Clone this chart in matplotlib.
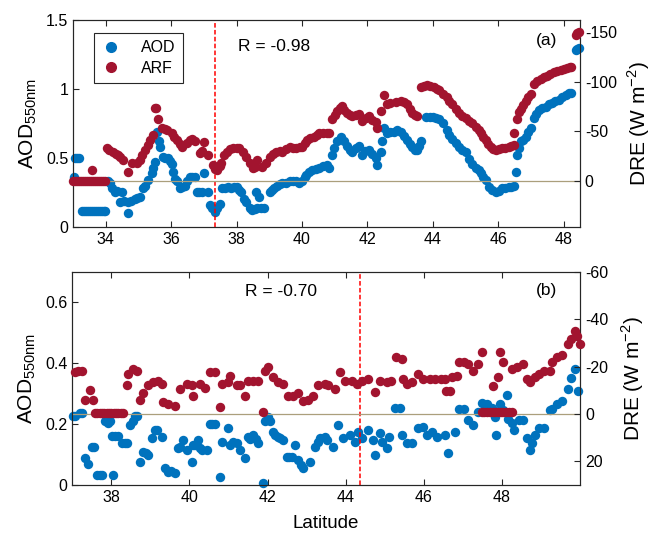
import matplotlib
matplotlib.use("Agg")
import matplotlib.pyplot as plt
from matplotlib.lines import Line2D

plt.rcParams['font.family'] = ['Liberation Sans', 'DejaVu Sans']
plt.rcParams['mathtext.fontset'] = 'custom'
plt.rcParams['mathtext.rm'] = 'Liberation Sans'
plt.rcParams['axes.unicode_minus'] = False

BLUE = '#0072BD'
RED = '#A2142F'

# ---------------- Panel (a) data ----------------
lat_a_aod = [33.03, 33.06, 33.12, 33.18,
             33.27, 33.33, 33.40, 33.46, 33.52, 33.58, 33.64, 33.70, 33.76, 33.82, 33.88, 33.94, 33.98,
             34.08, 34.13, 34.20, 34.28, 34.35, 34.43, 34.49, 34.55, 34.68, 34.68, 34.78, 34.89, 34.97, 35.04,
             35.15, 35.20, 35.30, 35.41, 35.44, 35.50, 35.56, 35.62, 35.65, 35.74, 35.82, 35.90, 35.96, 36.02, 36.05,
             36.12, 36.17, 36.26, 36.33, 36.41, 36.50, 36.57, 36.65, 36.72, 36.78, 36.86, 36.93, 37.02, 37.12,
             37.18, 37.24, 37.33, 37.40, 37.48, 37.57, 37.66, 37.75, 37.84, 37.92, 38.00, 38.08, 38.15, 38.22, 38.30,
             38.40, 38.46, 38.55, 38.64, 38.75, 38.85, 38.61, 38.70, 39.01, 39.08, 39.16, 39.25, 39.32, 39.40,
             39.50, 39.62, 39.72, 39.83, 39.92, 40.01, 40.08, 40.13, 40.22, 40.32, 40.42, 40.53, 40.65, 40.77, 40.84,
             40.93, 40.99, 41.08, 41.20, 41.28, 41.38, 41.46, 41.54, 41.65, 41.75, 41.84, 41.92, 42.05, 42.15, 42.27, 42.30, 42.42,
             42.45, 42.51, 42.60, 42.70, 42.82, 42.92, 43.03, 43.12, 43.21, 43.30, 43.37, 43.45, 43.52, 43.58, 43.64,
             43.79, 43.90, 44.00, 44.10, 44.19, 44.30, 44.43, 44.50, 44.59, 44.70, 44.80, 44.90, 45.01, 45.10, 45.20,
             45.32, 45.40, 45.47, 45.55, 45.62, 45.71, 45.80, 45.93, 46.02, 46.11, 46.20, 46.32, 46.40, 46.48,
             46.54, 46.57, 46.63, 46.69, 46.76, 46.84, 46.92, 46.99, 47.09, 47.16, 47.24, 47.35, 47.45, 47.55, 47.63,
             47.75, 47.85, 47.95, 48.06, 48.15, 48.24, 48.37, 48.42, 48.46]
aod_a = [0.36, 0.50, 0.50, 0.50,
         0.115, 0.115, 0.115, 0.115, 0.115, 0.115, 0.115, 0.115, 0.115, 0.115, 0.115, 0.115, 0.115,
         0.33, 0.32, 0.28, 0.25, 0.26, 0.18, 0.25, 0.19, 0.10, 0.18, 0.19, 0.20, 0.21, 0.22,
         0.28, 0.30, 0.34, 0.39, 0.43, 0.47, 0.69, 0.62, 0.58, 0.51, 0.50, 0.50, 0.48, 0.46, 0.40,
         0.35, 0.33, 0.28, 0.29, 0.30, 0.33, 0.36, 0.36, 0.36, 0.25, 0.25, 0.25, 0.39, 0.25,
         0.16, 0.14, 0.11, 0.14, 0.17, 0.28, 0.28, 0.29, 0.28, 0.29, 0.29, 0.27, 0.25, 0.20, 0.18,
         0.14, 0.12, 0.13, 0.14, 0.14, 0.14, 0.25, 0.22, 0.25, 0.27, 0.28, 0.30, 0.31, 0.32,
         0.32, 0.33, 0.33, 0.33, 0.32, 0.33, 0.36, 0.38, 0.40, 0.41, 0.42, 0.43, 0.44, 0.45, 0.43,
         0.52, 0.57, 0.62, 0.65, 0.62, 0.59, 0.56, 0.54, 0.57, 0.59, 0.52, 0.55, 0.56, 0.53, 0.50, 0.45, 0.54,
         0.62, 0.72, 0.68, 0.69, 0.69, 0.70, 0.69, 0.66, 0.63, 0.60, 0.58, 0.56, 0.56, 0.59, 0.62,
         0.80, 0.80, 0.80, 0.79, 0.78, 0.75, 0.70, 0.67, 0.64, 0.61, 0.58, 0.56, 0.54, 0.49, 0.46,
         0.43, 0.41, 0.39, 0.36, 0.34, 0.29, 0.27, 0.25, 0.26, 0.28, 0.28, 0.29, 0.29, 0.30,
         0.40, 0.52, 0.57, 0.62, 0.63, 0.65, 0.69, 0.72, 0.79, 0.82, 0.85, 0.86, 0.87, 0.89, 0.90,
         0.91, 0.92, 0.94, 0.96, 0.97, 0.97, 1.28, 1.29, 1.30]

lat_a_arf = [33.00, 33.06, 33.12, 33.18, 33.24, 33.30, 33.37, 33.43, 33.49, 33.55, 33.61, 33.67, 33.73,
             33.79, 33.85, 33.91, 33.98, 33.58,
             34.04, 34.10, 34.22, 34.30, 34.37, 34.45, 34.52, 34.68, 34.80, 34.95, 35.04, 35.12, 35.20, 35.28,
             35.35, 35.44, 35.50, 35.55, 35.59, 35.71, 35.80, 35.87, 36.02, 36.10, 36.17, 36.26, 36.32, 36.48,
             36.57, 36.65, 36.72, 36.87, 36.95, 37.02, 37.12, 37.27, 37.33, 37.39, 37.48, 37.54, 37.62, 37.70,
             37.79, 37.88, 38.00, 38.09, 38.20, 38.30, 38.40, 38.49, 38.57, 38.64, 38.79, 38.90, 39.01, 39.10,
             39.22, 39.32, 39.40, 39.52, 39.62, 39.72, 39.83, 39.93, 40.01, 40.10, 40.16, 40.25, 40.38, 40.45,
             40.53, 40.65, 40.77, 40.84, 40.93, 41.00, 41.08, 41.15, 41.23, 41.30, 41.38, 41.46, 41.54, 41.65,
             41.75, 41.84, 41.95, 42.05, 42.15, 42.27, 42.30, 42.42, 42.51, 42.60, 42.70, 42.88, 43.03, 43.12,
             43.21, 43.30, 43.37, 43.45, 43.52, 43.64, 43.73, 43.82, 43.93, 44.04, 44.12, 44.19, 44.30, 44.43,
             44.50, 44.59, 44.70, 44.80, 44.90, 45.01, 45.10, 45.20, 45.32, 45.40, 45.47, 45.55, 45.62, 45.70,
             45.77, 45.85, 45.93, 46.02, 46.11, 46.20, 46.32, 46.40, 46.48, 46.48, 46.57, 46.63, 46.69, 46.76,
             46.84, 46.92, 46.99, 47.09, 47.18, 47.30, 47.40, 47.48, 47.58, 47.70, 47.80, 47.91, 48.00, 48.09,
             48.18, 48.24, 48.37, 48.42, 48.46]
arf_a = [0, 0, 0, 0, 0, 0, 0, 0, 0, 0, 0, 0, 0,
         0, 0, 0, 0, -11,
         -33, -31, -29, -27, -26, -24, -21, -9, -18, -18, -21, -26, -31, -36,
         -41, -46, -74, -74, -63, -53, -52, -51, -48, -44, -41, -37, -34, -38,
         -41, -42, -40, -28, -30, -39, -26, -16, -12, -11, -15, -18, -26, -29,
         -32, -33, -33, -33, -29, -24, -18, -13, -14, -21, -14, -18, -24, -27,
         -29, -30, -29, -32, -34, -33, -33, -34, -34, -38, -41, -43, -44, -46,
         -48, -48, -48, -48, -63, -67, -71, -74, -76, -72, -69, -67, -66, -67,
         -68, -61, -64, -66, -62, -59, -53, -71, -87, -78, -79, -80, -81, -80,
         -78, -73, -69, -67, -66, -95, -96, -97, -96, -95, -93, -92, -88, -85,
         -81, -78, -73, -69, -66, -64, -61, -58, -54, -51, -48, -44, -41, -37,
         -34, -32, -31, -32, -33, -33, -34, -35, -36, -48, -63, -70, -73, -77,
         -81, -85, -88, -98, -101, -103, -105, -106, -108, -110, -111, -112, -113, -114,
         -115, -115, -147, -149, -150]

# ---------------- Panel (b) data ----------------
lat_b_aod = [37.02, 37.07, 37.20, 37.25, 37.32, 37.40, 37.50, 37.55, 37.63, 37.70, 37.76, 37.84, 37.91,
             37.97, 38.04, 38.02, 38.10, 38.17, 38.27, 38.35, 38.40, 38.48, 38.55, 38.60, 38.66, 38.73,
             38.81, 38.88, 38.94, 39.04, 39.12, 39.18, 39.29, 39.37, 39.45, 39.52, 39.62, 39.70, 39.76,
             39.83, 39.93, 40.06, 40.09, 40.15, 40.21, 40.27, 40.32, 40.45, 40.52, 40.58, 40.65, 40.78,
             40.83, 40.98, 41.03, 41.12, 41.21, 41.29, 41.41, 41.49, 41.55, 41.62, 41.70, 41.75, 41.88,
             41.93, 42.01, 42.07, 42.13, 42.20, 42.26, 42.32, 42.39, 42.49, 42.55, 42.62, 42.70, 42.77,
             42.85, 42.90, 43.08, 43.21, 43.28, 43.34, 43.46, 43.51, 43.67, 43.80, 43.93, 44.10, 44.23,
             44.31, 44.41, 44.56, 44.69, 44.74, 44.87, 44.94, 45.05, 45.12, 45.25, 45.38, 45.43, 45.56,
             45.71, 45.84, 45.97, 46.07, 46.22, 46.35, 46.53, 46.61, 46.79, 46.91, 47.04, 47.12, 47.25,
             47.38, 47.48, 47.61, 47.74, 47.81, 47.86, 47.94, 48.02, 48.12, 48.15, 48.25, 48.32, 48.45,
             48.53, 48.63, 48.71, 48.76, 48.84, 48.96, 49.09, 49.22, 49.27, 49.42, 49.55, 49.68, 49.78,
             49.86, 49.94]
aod_b = [0.226, 0.226, 0.235, 0.235, 0.088, 0.070, 0.124, 0.124, 0.033, 0.033, 0.033, 0.210, 0.205,
         0.210, 0.033, 0.160, 0.160, 0.160, 0.137, 0.137, 0.137, 0.196, 0.210, 0.228, 0.228, 0.075,
         0.108, 0.104, 0.098, 0.153, 0.180, 0.180, 0.157, 0.055, 0.042, 0.045, 0.039, 0.120, 0.125,
         0.147, 0.114, 0.075, 0.130, 0.130, 0.147, 0.120, 0.114, 0.114, 0.200, 0.200, 0.200, 0.026,
         0.140, 0.186, 0.130, 0.140, 0.137, 0.114, 0.088, 0.157, 0.150, 0.163, 0.150, 0.137, 0.006,
         0.210, 0.222, 0.210, 0.173, 0.165, 0.157, 0.155, 0.147, 0.091, 0.091, 0.091, 0.130, 0.082,
         0.065, 0.055, 0.075, 0.124, 0.140, 0.153, 0.157, 0.147, 0.124, 0.196, 0.153, 0.163, 0.140,
         0.173, 0.153, 0.180, 0.147, 0.098, 0.170, 0.140, 0.120, 0.157, 0.254, 0.254, 0.163, 0.137,
         0.137, 0.186, 0.190, 0.163, 0.173, 0.157, 0.163, 0.104, 0.173, 0.250, 0.250, 0.212, 0.196,
         0.238, 0.270, 0.267, 0.254, 0.222, 0.163, 0.267, 0.245, 0.294, 0.218, 0.205, 0.180, 0.212,
         0.212, 0.153, 0.114, 0.137, 0.163, 0.186, 0.186, 0.245, 0.250, 0.267, 0.277, 0.316, 0.350,
         0.380, 0.310]

lat_b_arf = [37.07, 37.15, 37.25, 37.32, 37.45, 37.53,
             37.58, 37.64, 37.70, 37.76, 37.82, 37.88, 37.94, 38.00, 38.06, 38.12, 38.18, 38.24, 38.30,
             38.40, 38.42, 38.55, 38.65, 38.73, 38.81, 38.94, 39.06, 39.19, 39.29, 39.32, 39.45, 39.62,
             39.76, 39.93, 40.06, 40.09, 40.27, 40.39, 40.52, 40.65, 40.78, 40.83, 40.98, 41.03, 41.21,
             41.29, 41.41, 41.49, 41.62, 41.75, 41.88, 41.93, 42.01, 42.13, 42.26, 42.39, 42.52, 42.64,
             42.77, 42.90, 43.03, 43.16, 43.28, 43.46, 43.54, 43.72, 43.85, 43.98, 44.15, 44.28, 44.41,
             44.56, 44.74, 44.87, 45.05, 45.17, 45.30, 45.43, 45.46, 45.58, 45.71, 45.84, 45.97, 46.15,
             46.28, 46.45, 46.58, 46.53, 46.71, 46.84, 46.66, 46.91, 47.04, 47.12, 47.25, 47.38, 47.48,
             47.76, 47.89, 47.94, 48.02, 48.25, 48.38, 48.53, 48.63, 48.71, 48.84, 48.96, 49.09, 49.22,
             49.27, 49.42, 49.55, 49.68, 49.78, 49.86, 49.91, 49.99,
             47.48, 47.55, 47.62, 47.69, 47.76, 47.83, 47.90, 47.97, 48.04, 48.11, 48.18, 48.25]
arf_b = [-17.7, -18, -18, -6, -10, -6,
         -0.5, -0.5, -0.5, -0.5, -0.5, -0.5, -0.5, -0.5, -0.5, -0.5, -0.5, -0.5, -0.5,
         -12, -17, -19, -18, -6, -9, -12, -13.5, -14, -12.7, -5, -4, -3.4,
         -10.5, -12.7, -12, -7.6, -12.7, -11, -17.7, -17.7, -3, -12.7, -13.5, -16, -12,
         -12, -7.6, -14, -14, -14, -1, -18, -19.8, -15.6, -13.5, -12.7, -7.6, -7.6,
         -9, -5.5, -6, -7.6, -12, -12.7, -12, -10.5, -17.7, -14, -14, -12.7, -14,
         -14.8, -9.3, -14, -13.5, -14, -24, -23, -14.8, -12.7, -13.5, -16.9, -14.8, -14.8,
         -14.8, -14.8, -9.7, -14.8, -15.6, -16, -9.7, -22, -22, -21, -18, -21, -26,
         -11.8, -15.6, -26, -21.9, -19, -20, -21, -14.8, -13.5, -15.6, -16.9, -18, -18,
         -22, -24, -25, -29.5, -31.6, -35, -33, -29.5,
         -0.8, -0.8, -0.8, -0.8, -0.8, -0.8, -0.8, -0.8, -0.8, -0.8, -0.8, -0.8]

R_a = 'R = -0.98'
R_b = 'R = -0.70'
vline_a = 37.33
vline_b = 44.36

TICK_FS = 11.5
LABEL_FS = 15
SPINE = '#262626'
ZERO_C = '#ab9f7c'
MS = 46


def style_axes(ax, ax2):
    for a in (ax, ax2):
        for s in a.spines.values():
            s.set_color(SPINE)
            s.set_linewidth(0.8)
    ax.tick_params(axis='both', direction='in', length=4, width=0.8, colors=SPINE,
                   labelcolor='black', labelsize=TICK_FS, top=True, right=False)
    ax2.tick_params(axis='y', direction='in', length=4, width=0.8, colors=SPINE,
                    labelcolor='black', labelsize=TICK_FS)


fig = plt.figure(figsize=(6.54, 5.36), dpi=100)

# ---- Panel (a)
ax1 = fig.add_axes([0.1116, 0.5765, 0.7752, 0.3862])
ax1b = ax1.twinx()
ax1.scatter(lat_a_aod, aod_a, s=MS, color=BLUE, linewidths=0, zorder=3, clip_on=False)
ax1b.scatter(lat_a_arf, arf_a, s=MS, color=RED, linewidths=0, zorder=3, clip_on=False)
ax1b.axhline(0, color=ZERO_C, lw=0.9, zorder=1)
ax1.axvline(vline_a, color='#ff0000', lw=1.1, ls=(0, (3, 1.5)), zorder=4)
ax1.set_xlim(33, 48.5)
ax1.set_ylim(0, 1.5)
ax1.set_xticks([34, 36, 38, 40, 42, 44, 46, 48])
ax1.set_yticks([0, 0.5, 1, 1.5])
ax1.set_yticklabels(['0', '0.5', '1', '1.5'])
ax1b.set_ylim(46, -162)
ax1b.set_yticks([-150, -100, -50, 0])
ax1.set_ylabel(r'AOD$_{\mathregular{550nm}}$', fontsize=LABEL_FS, labelpad=5)
ax1b.set_ylabel(r'DRE (W m$^{\mathregular{-2}}$)', fontsize=LABEL_FS, labelpad=6)
style_axes(ax1, ax1b)
ax1b.text(0.325, 0.874, R_a, transform=ax1b.transAxes, fontsize=12.5, va='center', ha='left')
ax1b.text(0.955, 0.903, '(a)', transform=ax1b.transAxes, fontsize=12.5, va='center', ha='right')
handles = [Line2D([], [], marker='o', ls='none', color=BLUE, markersize=7),
           Line2D([], [], marker='o', ls='none', color=RED, markersize=7)]
leg = ax1b.legend(handles, ['AOD', 'ARF'], loc='upper left', bbox_to_anchor=(0.041, 0.937),
                  borderaxespad=0, fancybox=False, framealpha=1, edgecolor=SPINE,
                  fontsize=11.5, handletextpad=1.3, borderpad=0.45, labelspacing=0.35,
                  handlelength=1.2)
leg.get_frame().set_linewidth(0.8)
leg.set_zorder(10)

# ---- Panel (b)
ax2 = fig.add_axes([0.1106, 0.0951, 0.7763, 0.398])
ax2b = ax2.twinx()
ax2.scatter(lat_b_aod, aod_b, s=MS, color=BLUE, linewidths=0, zorder=3, clip_on=False)
ax2b.scatter(lat_b_arf, arf_b, s=MS, color=RED, linewidths=0, zorder=3, clip_on=False)
ax2b.axhline(0, color=ZERO_C, lw=0.9, zorder=1)
ax2.axvline(vline_b, color='#ff0000', lw=1.1, ls=(0, (3, 1.5)), zorder=4)
ax2.set_xlim(37, 50)
ax2.set_ylim(0, 0.7)
ax2.set_xticks([38, 40, 42, 44, 46, 48])
ax2.set_yticks([0, 0.2, 0.4, 0.6])
ax2.set_yticklabels(['0', '0.2', '0.4', '0.6'])
ax2b.set_ylim(30, -60)
ax2b.set_yticks([-60, -40, -20, 0, 20])
ax2.set_ylabel(r'AOD$_{\mathregular{550nm}}$', fontsize=LABEL_FS, labelpad=5)
ax2b.set_ylabel(r'DRE (W m$^{\mathregular{-2}}$)', fontsize=LABEL_FS, labelpad=8)
ax2.set_xlabel('Latitude', fontsize=13.5, labelpad=7)
style_axes(ax2, ax2b)
ax2b.text(0.34, 0.905, R_b, transform=ax2b.transAxes, fontsize=12.5, va='center', ha='left')
ax2b.text(0.955, 0.914, '(b)', transform=ax2b.transAxes, fontsize=12.5, va='center', ha='right')

fig.savefig('out.png', dpi=100)
